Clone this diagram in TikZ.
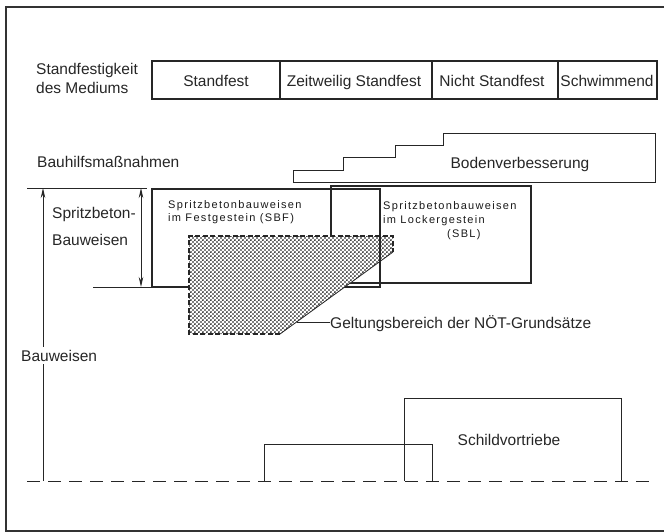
\documentclass[tikz,border=0pt]{standalone}
\usepackage{fontspec}
\setmainfont{Liberation Sans}
\usetikzlibrary{arrows.meta,patterns}
\pgfdeclarepatternformonly{refdots}{\pgfpointorigin}{\pgfpoint{4.4pt}{4.4pt}}{\pgfpoint{4.4pt}{4.4pt}}{%
  \pgfpathcircle{\pgfpoint{1.1pt}{1.1pt}}{1.05pt}%
  \pgfpathcircle{\pgfpoint{3.3pt}{3.3pt}}{1.05pt}%
  \pgfusepath{fill}}
\begin{document}
\begin{tikzpicture}[x=1pt,y=-1pt,
  lbl/.style={inner sep=0pt, anchor=base west, text=black!85, font=\fontsize{15.5}{18}\selectfont},
  cell/.style={inner sep=0pt, anchor=base, text=black!85, font=\fontsize{15.5}{18}\selectfont},
  smalltxt/.style={inner sep=0pt, anchor=base west, text=black!90, font=\fontsize{11}{14}\selectfont\addfontfeatures{LetterSpace=12}},
  thinline/.style={line width=1pt, draw=black!85},
  boxline/.style={line width=1.8pt, draw=black!85}]
\useasboundingbox (0,0) rectangle (666,532);
% frame
\draw[line width=1.3pt, draw=black!80] (664,7) -- (6,7) -- (6,531) -- (664,531);

% Standfestigkeit table
\node[lbl] (st1) at (36,75) {Standfestigkeit};
\node[lbl] (st2) at (36,94) {des Mediums};
\draw[line width=1.2pt, draw=black!85] (152,61) rectangle (657,99);
\foreach \xx in {280,432,558} \draw[line width=1.2pt, draw=black!85] (\xx,61) -- (\xx,99);
\node[cell] (c1) at (216,87) {Standfest};
\node[cell] (c2) at (354,87) {Zeitweilig Standfest};
\node[cell] (c3) at (492,87) {Nicht Standfest};
\node[cell] (c4) at (607,87) {Schwimmend};

% Bauhilfsmassnahmen
\node[lbl] (bh) at (37,167) {Bauhilfsmaßnahmen};
\draw[thinline] (293,182) -- (293,170) -- (343,170) -- (343,157) -- (395,157) -- (395,145)
  -- (443,145) -- (443,133) -- (655,133) -- (655,182) -- cycle;
\node[cell] (bv) at (520,168) {Bodenverbesserung};

% Spritzbeton boxes
\draw[boxline] (331,186) rectangle (531,283);
\draw[boxline] (152,189) rectangle (380,287);
\node[smalltxt] (sbf1) at (168,208) {Spritzbetonbauweisen};
\node[smalltxt] (sbf2) at (168,221) {im Festgestein (SBF)};
\node[smalltxt] (sbl1) at (383,209) {Spritzbetonbauweisen};
\node[smalltxt] (sbl2) at (383,223) {im Lockergestein};
\node[smalltxt] (sbl3) at (447,237) {(SBL)};

% hatched region
\path[fill=white] (189,236) -- (393,236) -- (393,252) -- (280,334) -- (189,334) -- cycle;
\path[pattern=refdots, pattern color=black] (189,236) -- (393,236) -- (393,252) -- (280,334) -- (189,334) -- cycle;
\draw[line width=1.4pt, draw=black!85, dash pattern=on 5pt off 2.5pt] (280,334) -- (189,334) -- (189,236) -- (393,236) -- (393,252);
\draw[line width=0.8pt, draw=black!85] (393,252) -- (280,334);
\draw[boxline] (380,189) -- (380,287);
\coordinate (gp) at (297,322);
\node[lbl] (gb) at (330,328) {Geltungsbereich der NÖT-Grundsätze};
\draw[thinline] (gp) -- (gb.west |- gp);

% dimension lines
\coordinate (d1) at (27,188);
\coordinate (d2) at (147,188);
\coordinate (d3) at (93,287);
\coordinate (d4) at (152,287);
\coordinate (ab) at (43,481);
\coordinate (at) at (43,188);
\coordinate (ib) at (141,287);
\coordinate (it) at (141,188);
\draw[thinline] (d1) -- (d2);
\draw[thinline] (d3) -- (d4);
\draw[thinline, -{Stealth[length=10pt,width=4.5pt]}] (ab) -- (at);
\draw[thinline, {Stealth[length=10pt,width=4.5pt]}-{Stealth[length=10pt,width=4.5pt]}] (ib) -- (it);
\node[lbl] (sb1) at (52,218) {Spritzbeton-};
\node[lbl] (sb2) at (52,245) {Bauweisen};
\node[lbl, fill=white, inner xsep=1pt, inner ysep=3pt] (bw) at (20,361) {Bauweisen};

% Schildvortriebe
\coordinate (b1) at (27,481);
\coordinate (b2) at (654,481);
\draw[thinline, dash pattern=on 13pt off 8pt] (b1) -- (b2);
\draw[thinline] (264,481) -- (264,444) -- (432,444) -- (432,481);
\draw[thinline] (404,481) -- (404,398) -- (621,398) -- (621,481);
\node[cell] (sv) at (509,445) {Schildvortriebe};
\end{tikzpicture}
\end{document}
